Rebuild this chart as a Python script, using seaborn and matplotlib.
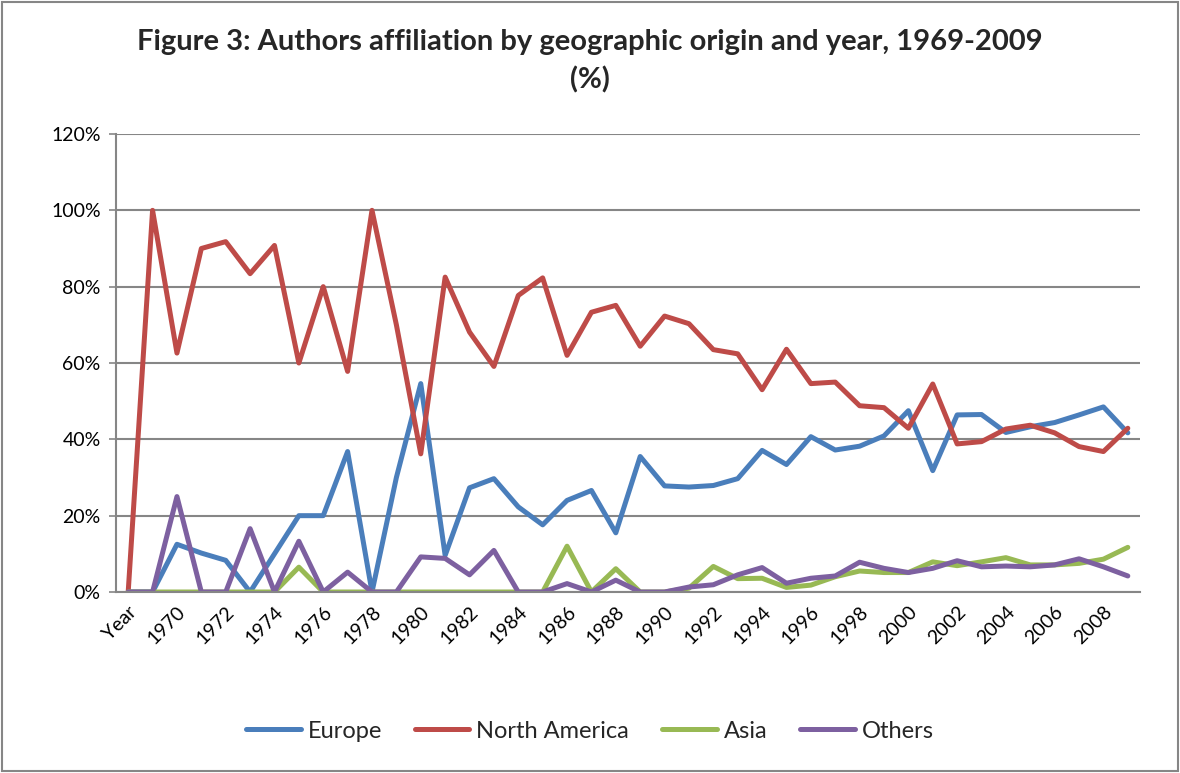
import numpy as np
import pandas as pd
import matplotlib
matplotlib.use('Agg')
import matplotlib.pyplot as plt
import seaborn as sns
from matplotlib.patches import Rectangle
from matplotlib.ticker import FuncFormatter

# categories as in the source sheet (first column header "Year" came along as a category)
categories = ['Year'] + [str(y) for y in range(1969, 2010)]

europe = [0, 0, 12.5, 10.2, 8.3, 0, 10.0, 20, 20, 36.8, 0, 30, 54.6, 9.6,
          27.3, 29.7, 22.3, 17.6, 24.0, 26.6, 15.5, 35.5, 27.8, 27.5, 27.9, 29.7,
          37.1, 33.4, 40.7, 37.2, 38.2, 40.9, 47.5, 31.8, 46.4, 46.5, 41.8, 43.3,
          44.4, 46.4, 48.5, 41.7]
north_america = [0, 100, 62.6, 90, 91.8, 83.4, 90.8, 60, 80, 57.8, 100, 70, 36.2, 82.5,
                 68.1, 59.1, 77.7, 82.3, 62.0, 73.3, 75.1, 64.4, 72.3, 70.3, 63.5, 62.4,
                 53.0, 63.6, 54.6, 55.0, 48.8, 48.3, 42.9, 54.5, 38.8, 39.4, 42.7, 43.7,
                 41.7, 38.1, 36.8, 42.9]
asia = [0, 0, 0, 0, 0, 0, 0, 6.5, 0, 0, 0, 0, 0, 0,
        0, 0, 0, 0, 12.0, 0, 6.1, 0, 0, 1.0, 6.7, 3.5,
        3.6, 1.2, 1.8, 4.0, 5.5, 5.1, 5.1, 7.9, 6.9, 7.9, 9.0, 7.1,
        7.1, 7.5, 8.6, 11.7]
others = [0, 0, 25, 0, 0, 16.6, 0, 13.3, 0, 5.2, 0, 0, 9.2, 8.8,
          4.5, 10.9, 0, 0, 2.2, 0, 3.1, 0, 0, 1.3, 1.9, 4.5,
          6.4, 2.3, 3.6, 4.2, 7.8, 6.2, 5.1, 6.2, 8.2, 6.6, 6.8, 6.6,
          7.1, 8.7, 6.6, 4.2]

series_names = ['Europe', 'North America', 'Asia', 'Others']
colors = ['#4A7EBB', '#BE4B48', '#98B954', '#7D60A0']

pos = np.arange(len(categories))
frames = []
for name, vals in zip(series_names, [europe, north_america, asia, others]):
    frames.append(pd.DataFrame({'pos': pos, 'value': vals, 'Region': name}))
df = pd.concat(frames, ignore_index=True)

sns.set_style('white')
plt.rcParams['font.family'] = ['Lato', 'DejaVu Sans']

fig = plt.figure(figsize=(11.8, 7.73), dpi=100)
ax = fig.add_axes([116 / 1180, 1 - 592 / 773, 1024 / 1180, 458 / 773])

sns.lineplot(data=df, x='pos', y='value', hue='Region', hue_order=series_names,
             palette=dict(zip(series_names, colors)), linewidth=3.6, sort=False,
             ax=ax, legend=True)

ax.set_xlim(-0.5, len(categories) - 0.5)
ax.set_ylim(0, 120)
ax.set_yticks(np.arange(0, 121, 20))
ax.yaxis.set_major_formatter(FuncFormatter(lambda v, p: f'{int(v)}%'))
ax.set_xticks(pos[::2])
ax.set_xticklabels(categories[::2], rotation=45, ha='right', rotation_mode='anchor')
ax.tick_params(axis='both', labelsize=14, colors='black')
ax.tick_params(axis='x', length=0, pad=8)
ax.tick_params(axis='y', length=5, color='#868686', width=1.2, pad=6, left=True)
ax.set_xlabel('')
ax.set_ylabel('')
ax.grid(axis='y', color='#868686', linewidth=1.5)
ax.set_axisbelow(True)
for s in ['top', 'right']:
    ax.spines[s].set_visible(False)
for s in ['left', 'bottom']:
    ax.spines[s].set_color('#868686')
    ax.spines[s].set_linewidth(1.5)

fig.suptitle('Figure 3: Authors affiliation by geographic origin and year, 1969-2009\n(%)',
             fontsize=21, fontweight='bold', y=0.963, linespacing=1.55)

handles, labels = ax.get_legend_handles_labels()
ax.legend_.remove()
fig.legend(handles, labels, loc='center', bbox_to_anchor=(0.5, 1 - 731 / 773), ncol=4,
           frameon=False, fontsize=17, handlelength=2.3, columnspacing=1.4,
           handletextpad=0.3)

fig.patches.append(Rectangle((0.002, 0.003), 0.996, 0.994, transform=fig.transFigure,
                             fill=False, edgecolor='#868686', linewidth=1.5))

fig.savefig('out.png', dpi=100)
